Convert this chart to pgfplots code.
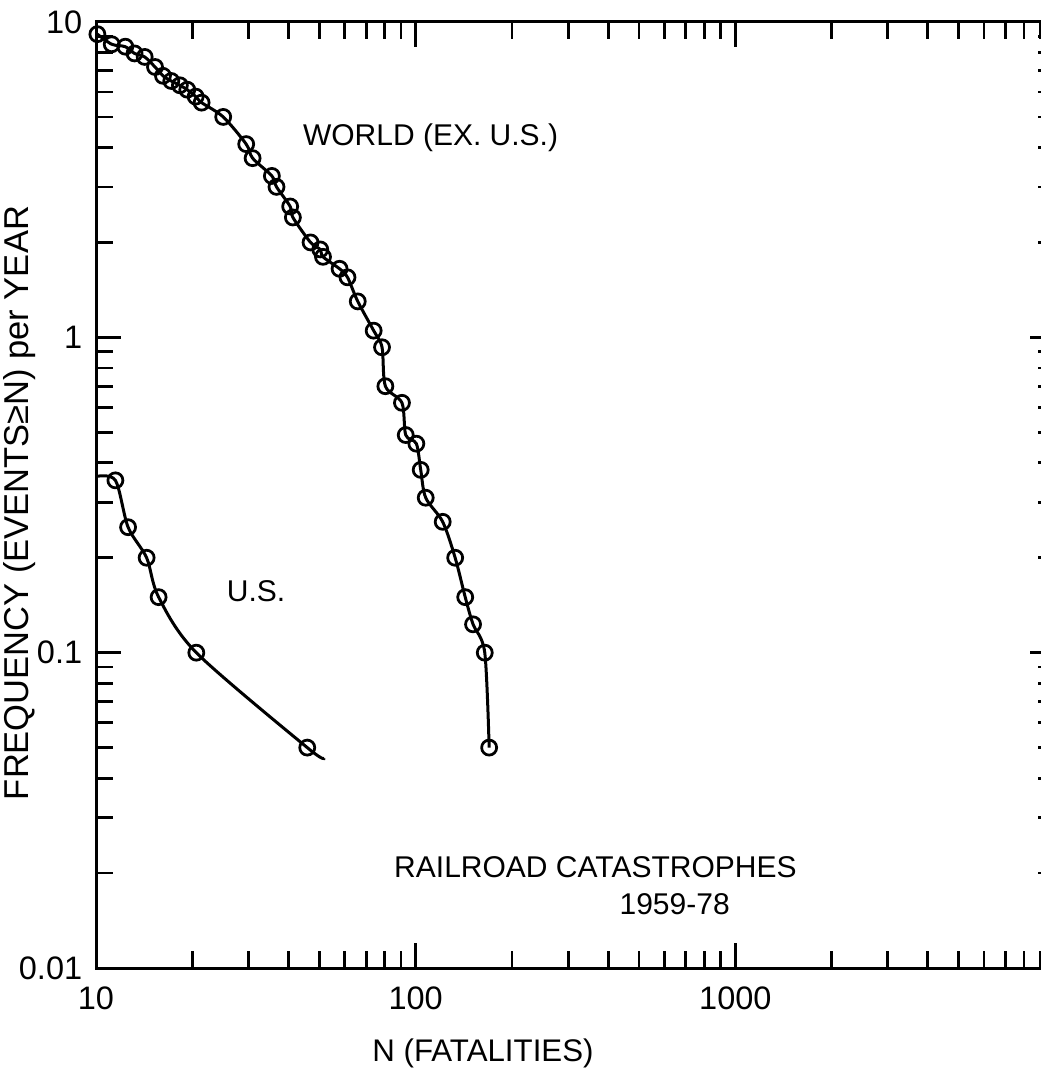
\documentclass[border=0pt]{standalone}
\usepackage{fontspec}
\setmainfont{Liberation Sans}
\usepackage{pgfplots}
\pgfplotsset{compat=1.18}

% frequency of railroad catastrophes with N or more fatalities
\pgfplotstableread{
N     f
10.1  9.15
11.2  8.5
12.35 8.35
13.2  7.95
14.2  7.75
15.3  7.2
16.2  6.75
17.2  6.5
18.3  6.3
19.3  6.1
20.5  5.8
21.4  5.55
25.0  5.0
29.5  4.1
30.9  3.7
35.5  3.25
36.7  3.0
40.5  2.6
41.3  2.4
46.9  2.0
50.3  1.9
51.3  1.8
57.8  1.65
61.2  1.55
65.9  1.3
73.9  1.05
78.5  0.93
80.4  0.70
90.6  0.62
93.1  0.49
100.5 0.46
103.7 0.38
107.5 0.31
121.5 0.26
132.9 0.20
142.9 0.15
151.2 0.123
164.5 0.10
169.8 0.05
}\world

\pgfplotstableread{
N     f
10.0  0.362
11.5  0.352
12.6  0.25
14.4  0.20
15.7  0.15
20.6  0.10
45.8  0.05
51.7  0.0463
}\us

\begin{document}
\begin{tikzpicture}
\begin{axis}[
  scale only axis,
  width=383.6pt, height=378.4pt,
  xmode=log, ymode=log,
  xmin=10, xmax=10000, ymin=0.01, ymax=10,
  xtick={10,100,1000,10000}, xticklabels={10,100,1000,{}},
  ytick={0.01,0.1,1,10}, yticklabels={0.01,0.1,1,10},
  tick align=inside,
  major tick length=10pt, minor tick length=7pt,
  every tick/.style={black, line width=1.1pt},
  axis line style={line width=1.2pt},
  /pgf/number format/assume math mode=true,
  ticklabel style={font=\fontsize{13}{15}\selectfont},
  xticklabel style={yshift=-4pt},
  yticklabel style={xshift=-2pt},
  xlabel={N (FATALITIES)},
  ylabel={FREQUENCY (EVENTS≥N) per YEAR},
  xlabel style={font=\fontsize{12.5}{14}\selectfont, at={(axis description cs:0.4035,-0.09)}, anchor=center},
  ylabel style={font=\fontsize{13.8}{16}\selectfont, at={(axis description cs:-0.0793,0.4915)}, anchor=center},
  clip=false,
]
\addplot[black, line width=1.2pt, smooth, tension=0.5,
  mark=o, mark size=3pt, mark options={fill=white, line width=1.1pt}]
  table[x=N, y=f] {\world};
\addplot[black, line width=1.2pt, smooth, tension=0.5,
  mark=o, mark size=3pt, mark options={fill=white, line width=1.1pt},
  mark indices={2,3,4,5,6,7}]
  table[x=N, y=f] {\us};

\node[anchor=west, font=\fontsize{12}{14}\selectfont] at (axis cs:41.7,4.29) {WORLD (EX. U.S.)};
\node[anchor=west, font=\fontsize{12}{14}\selectfont] at (axis cs:24.1,0.157) {U.S.};
\node[font=\fontsize{12}{14}\selectfont] at (axis cs:365,0.0209) {RAILROAD CATASTROPHES};
\node[font=\fontsize{12}{14}\selectfont] at (axis cs:646,0.01596) {1959-78};
\end{axis}
\pgfresetboundingbox
\path[use as bounding box] (-38.4pt,-40.4pt) rectangle (378pt,387.2pt);
\end{tikzpicture}
\end{document}
